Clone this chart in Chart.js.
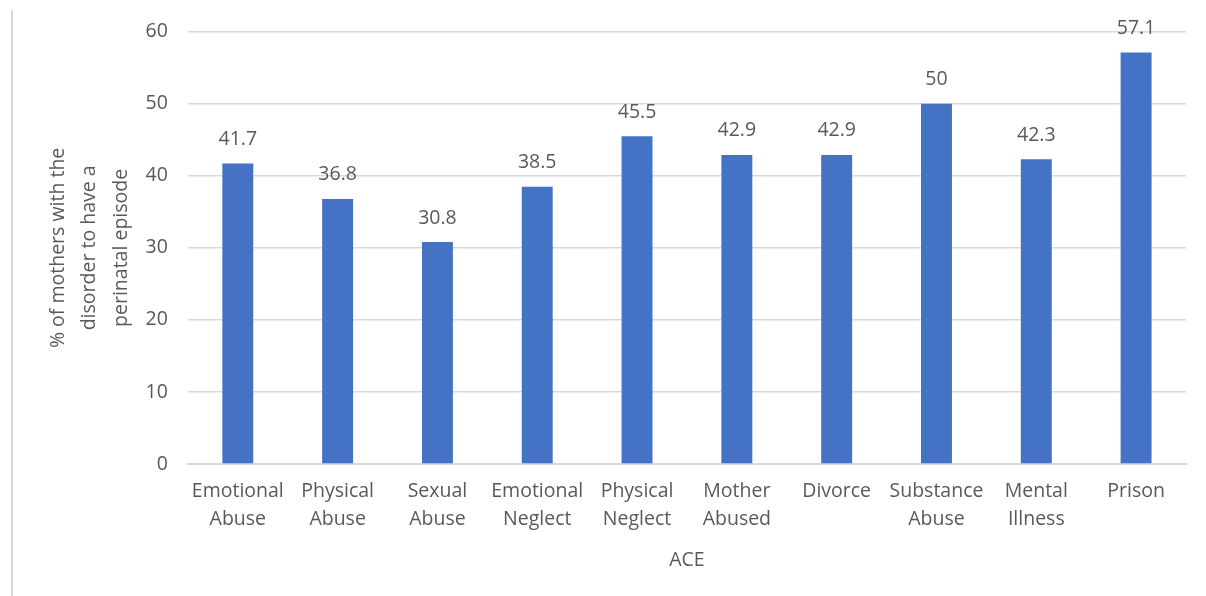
<!DOCTYPE html>
<html lang="en">
<head>
    <meta charset="UTF-8">
    <title>ACE and perinatal episodes</title>
    <script src="https://cdn.jsdelivr.net/npm/chart.js"></script>
    <style>
        html, body { margin: 0; padding: 0; background: #fff; }
        .frame {
            position: absolute;
            left: 11px; top: 10px;
            width: 1195px; height: 586px;
            border-left: 2px solid #d9d9d9;
        }
        .chart-box {
            position: absolute;
            left: 0; top: 0;
            width: 1206px; height: 596px;
        }
    </style>
</head>
<body>
    <div class="frame"></div>
    <div class="chart-box">
        <canvas id="aceChart"></canvas>
    </div>
    <script>
        const categories = [
            ['Emotional', 'Abuse'], ['Physical', 'Abuse'], ['Sexual', 'Abuse'],
            ['Emotional', 'Neglect'], ['Physical', 'Neglect'], ['Mother', 'Abused'],
            'Divorce', ['Substance', 'Abuse'], ['Mental', 'Illness'], 'Prison'
        ];
        const percentages = [41.7, 36.8, 30.8, 38.5, 45.5, 42.9, 42.9, 50, 42.3, 57.1];
        const yTicks = [0, 10, 20, 30, 40, 50, 60];

        const textColor = '#595959';
        const fontFamily = '"Open Sans", sans-serif';
        const fontSize = 19.5;

        // value labels drawn above each bar
        const barValues = {
            id: 'barValues',
            afterDatasetsDraw(chart) {
                const ctx = chart.ctx;
                const meta = chart.getDatasetMeta(0);
                ctx.save();
                ctx.fillStyle = textColor;
                ctx.font = fontSize + 'px ' + fontFamily;
                ctx.textAlign = 'center';
                ctx.textBaseline = 'middle';
                meta.data.forEach((bar, i) => {
                    ctx.fillText(String(percentages[i]), bar.x, bar.y - 24);
                });
                ctx.restore();
            }
        };

        new Chart(document.getElementById('aceChart').getContext('2d'), {
            type: 'bar',
            data: {
                labels: categories,
                datasets: [{
                    data: percentages,
                    backgroundColor: '#4472C4',
                    barPercentage: 0.62,
                    categoryPercentage: 0.5
                }]
            },
            options: {
                responsive: true,
                maintainAspectRatio: false,
                animation: false,
                layout: { padding: { left: 43, right: 20, top: 16, bottom: 20 } },
                plugins: {
                    legend: { display: false },
                    tooltip: { enabled: false }
                },
                scales: {
                    x: {
                        grid: { display: false, drawTicks: false },
                        border: { color: '#d9d9d9', width: 2 },
                        ticks: {
                            color: textColor,
                            font: { family: fontFamily, size: fontSize, lineHeight: 1.45 },
                            padding: 13,
                            maxRotation: 0,
                            autoSkip: false
                        },
                        title: {
                            display: true,
                            text: 'ACE',
                            color: textColor,
                            font: { family: fontFamily, size: fontSize },
                            padding: { top: 2 }
                        }
                    },
                    y: {
                        min: 0,
                        max: 60,
                        afterBuildTicks(axis) {
                            axis.ticks = yTicks.map(v => ({ value: v }));
                        },
                        // pull the axis title closer to the tick numbers
                        afterFit(axis) {
                            axis.width -= 11;
                        },
                        grid: { color: '#d9d9d9', lineWidth: 1.5, drawTicks: false },
                        border: { display: false },
                        ticks: {
                            color: textColor,
                            font: { family: fontFamily, size: fontSize },
                            padding: 20
                        },
                        title: {
                            display: true,
                            text: ['% of mothers with the', 'disorder to have a', 'perinatal episode'],
                            color: textColor,
                            font: { family: fontFamily, size: fontSize, lineHeight: 1.6 },
                            padding: { top: 0, bottom: 0 }
                        }
                    }
                }
            },
            plugins: [barValues]
        });
    </script>
</body>
</html>
